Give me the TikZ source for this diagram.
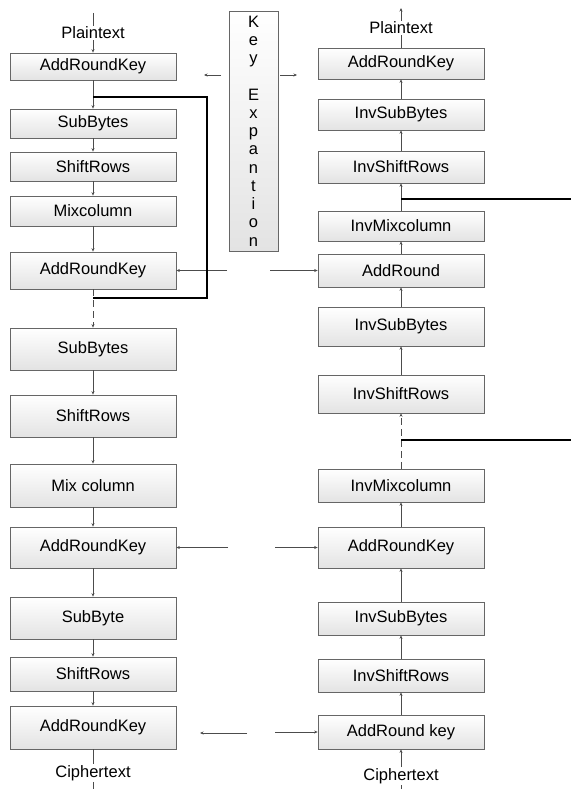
\documentclass[tikz,border=0pt]{standalone}
\usepackage{fontspec}
\setmainfont{Liberation Sans}
\usepackage{tikz}
\usetikzlibrary{arrows.meta,shadows}

\begin{document}
\begin{tikzpicture}[->, >={Stealth[length=3.5pt,width=3pt]}, x=1pt, y=1pt,
    block/.style={draw=gray!80!black, line width=0.7pt, top color=white, bottom color=gray!22,
      minimum width=166pt, inner sep=0pt, font=\fontsize{16.5}{19}\selectfont,
      drop shadow={shadow xshift=1.2pt, shadow yshift=-1.2pt, opacity=0.25}},
    lbl/.style={font=\fontsize{16.5}{19}\selectfont, inner sep=1pt},
    wire/.style={gray!60!black, line width=0.8pt},
    dashwire/.style={dash pattern=on 7pt off 4pt},
    loopline/.style={-, line width=1.7pt, black}]
    \useasboundingbox (0,0) rectangle (571,-789);

    % encryption side
    \node [lbl] (ptl) at (93,-33) {Plaintext};
    \node [block, minimum height=27pt] (ark1) at (93,-66.5) {AddRoundKey};
    \node [block, minimum height=29pt, node distance=57pt] (sb1) [below of=ark1] {SubBytes};
    \node [block, minimum height=29pt, node distance=43pt] (sr1) [below of=sb1] {ShiftRows};
    \node [block, minimum height=30pt, node distance=44.5pt] (mc1) [below of=sr1] {Mixcolumn};
    \node [block, minimum height=37pt, node distance=59.5pt] (ark2) [below of=mc1] {AddRoundKey};
    \node [block, minimum height=42pt, node distance=78.5pt] (sb2) [below of=ark2] {SubBytes};
    \node [block, minimum height=42pt, node distance=67pt] (sr2) [below of=sb2] {ShiftRows};
    \node [block, minimum height=43pt, node distance=69.5pt] (mc2) [below of=sr2] {Mix column};
    \node [block, minimum height=41pt, node distance=62pt] (ark3) [below of=mc2] {AddRoundKey};
    \node [block, minimum height=42pt, node distance=70.5pt] (sb3) [below of=ark3] {SubByte};
    \node [block, minimum height=34pt, node distance=56pt] (sr3) [below of=sb3] {ShiftRows};
    \node [block, minimum height=43pt, node distance=53.5pt] (ark4) [below of=sr3] {AddRoundKey};
    \node [lbl] (ctl) at (93,-773) {Ciphertext};

    % key schedule
    \node [block, minimum width=49pt, minimum height=240pt, align=center,
      font=\fontsize{16.5}{18.25}\selectfont] (kexp) at (253.5,-131)
      {K\\e\\y\\[18.25pt]E\\x\\p\\a\\n\\t\\i\\o\\n};

    % decryption side
    \node [lbl] (ptr) at (401,-28) {Plaintext};
    \node [block, minimum height=31pt] (arkr1) at (401,-63.5) {AddRoundKey};
    \node [block, minimum height=31pt, node distance=51pt] (isb1) [below of=arkr1] {InvSubBytes};
    \node [block, minimum height=32pt, node distance=52.5pt] (isr1) [below of=isb1] {InvShiftRows};
    \node [block, minimum height=30pt, node distance=59pt] (imc1) [below of=isr1] {InvMixcolumn};
    \node [block, minimum height=33pt, node distance=44.5pt] (ar1) [below of=imc1] {AddRound};
    \node [block, minimum height=39pt, node distance=56pt] (isb2) [below of=ar1] {InvSubBytes};
    \node [block, minimum height=38pt, node distance=67.5pt] (isr2) [below of=isb2] {InvShiftRows};
    \node [block, minimum height=33pt, node distance=91.5pt] (imc2) [below of=isr2] {InvMixcolumn};
    \node [block, minimum height=41pt, node distance=62pt] (arkr2) [below of=imc2] {AddRoundKey};
    \node [block, minimum height=33pt, node distance=71pt] (isb3) [below of=arkr2] {InvSubBytes};
    \node [block, minimum height=33pt, node distance=57pt] (isr3) [below of=isb3] {InvShiftRows};
    \node [block, minimum height=34pt, node distance=56.5pt] (arkr3) [below of=isr3] {AddRound key};
    \node [lbl] (ctr) at (401,-776) {Ciphertext};

    % free ends
    \coordinate (inl) at (93,-13);
    \coordinate (outl) at (93,-789);
    \coordinate (outr) at (401,-8);
    \coordinate (inr) at (401,-789);
    \coordinate (k1a) at (221,-75);  \coordinate (k1b) at (204,-75);
    \coordinate (k2a) at (280,-75);  \coordinate (k2b) at (297,-75);
    \coordinate (k3) at (227,-270.5);  \coordinate (k4) at (270,-270.5);
    \coordinate (k5) at (228,-547.5);  \coordinate (k6) at (275,-547.5);
    \coordinate (k7a) at (247,-733); \coordinate (k7b) at (200,-733);
    \coordinate (k8) at (275,-732);
    \coordinate (lpa) at (93,-97);   \coordinate (lpc) at (207,-298);
    \coordinate (lpd) at (93,-298);
    \coordinate (ta) at (401,-199);  \coordinate (tb) at (571,-199);
    \coordinate (tc) at (401,-440);  \coordinate (td) at (571,-440);

    \path [wire]
    (inl) edge[-] (ptl)
    (ptl) edge (ark1)
    (ark1) edge (sb1)
    (sb1) edge (sr1)
    (sr1) edge (mc1)
    (mc1) edge (ark2)
    (ark2) edge[dashwire] (sb2)
    (sb2) edge (sr2)
    (sr2) edge (mc2)
    (mc2) edge (ark3)
    (ark3) edge (sb3)
    (sb3) edge (sr3)
    (sr3) edge (ark4)
    (ark4) edge[-] (ctl)
    (ctl) edge[-] (outl)
    ;
    \path [wire]
    (inr) edge[-] (ctr)
    (ctr) edge (arkr3)
    (arkr3) edge (isr3)
    (isr3) edge (isb3)
    (isb3) edge (arkr2)
    (arkr2) edge (imc2)
    (imc2) edge[dashwire] (isr2)
    (isr2) edge (isb2)
    (isb2) edge (ar1)
    (ar1) edge (imc1)
    (imc1) edge (isr1)
    (isr1) edge (isb1)
    (isb1) edge (arkr1)
    (arkr1) edge[-] (ptr)
    (ptr) edge (outr)
    ;
    \path [wire]
    (k1a) edge (k1b)
    (k2a) edge (k2b)
    (k3) edge (ark2)
    (k4) edge (ar1)
    (k5) edge (ark3)
    (k6) edge (arkr2)
    (k7a) edge (k7b)
    (k8) edge (arkr3)
    ;
    \draw [loopline] (lpa) -| (lpc) -- (lpd);
    \draw [loopline] (ta) -- (tb);
    \draw [loopline] (tc) -- (td);
\end{tikzpicture}
\end{document}
